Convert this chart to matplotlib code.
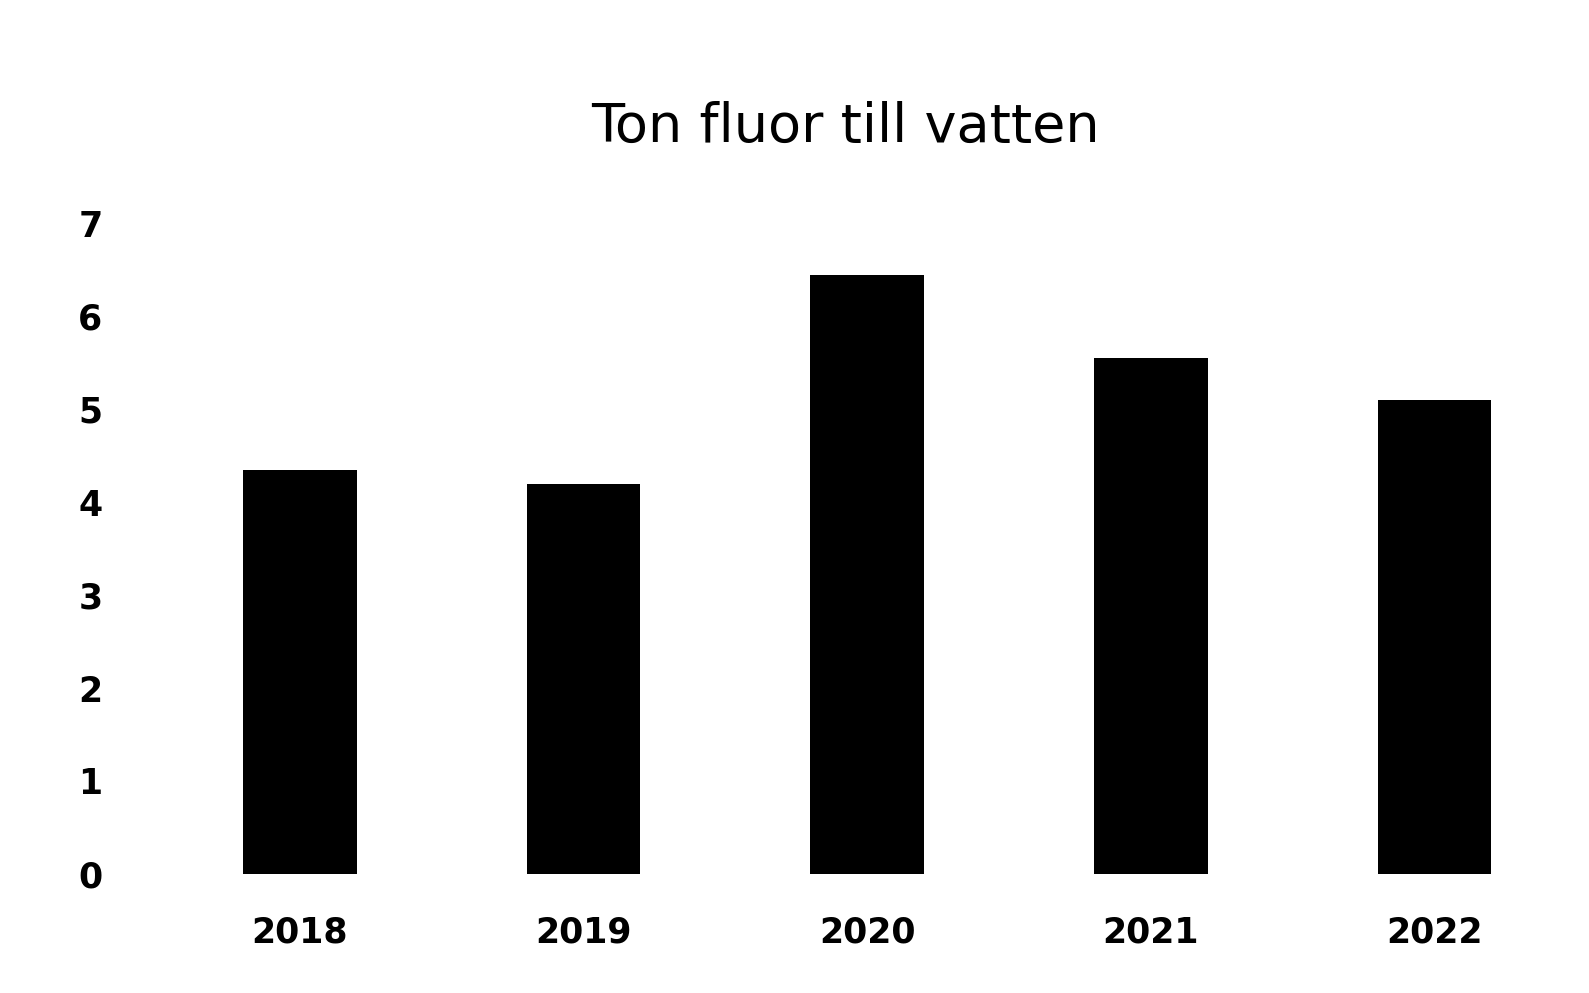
import matplotlib.pyplot as plt

years = ['2018', '2019', '2020', '2021', '2022']
ton_fluor = [4.35, 4.2, 6.45, 5.55, 5.1]
y_ticks = [0, 1, 2, 3, 4, 5, 6, 7]

fig, ax = plt.subplots(figsize=(15.89, 9.93), dpi=100)
fig.subplots_adjust(left=0.0995, right=0.992, top=0.775, bottom=0.12)

x = range(len(years))
ax.bar(x, ton_fluor, width=0.4, color='black')

ax.set_xticks(list(x))
ax.set_xticklabels(years, fontsize=25, fontweight='bold')
ax.set_yticks(y_ticks)
ax.set_yticklabels([str(v) for v in y_ticks], fontsize=25, fontweight='bold')
ax.set_xlim(-0.5, 4.5)
ax.set_ylim(0, 7)
ax.tick_params(axis='x', length=0, pad=30)
ax.tick_params(axis='y', length=0, pad=40)
for s in ax.spines.values():
    s.set_visible(False)

fig.suptitle('Ton fluor till vatten', fontsize=39, x=0.532, y=0.872, va='center')

plt.savefig('out.png', dpi=100)
